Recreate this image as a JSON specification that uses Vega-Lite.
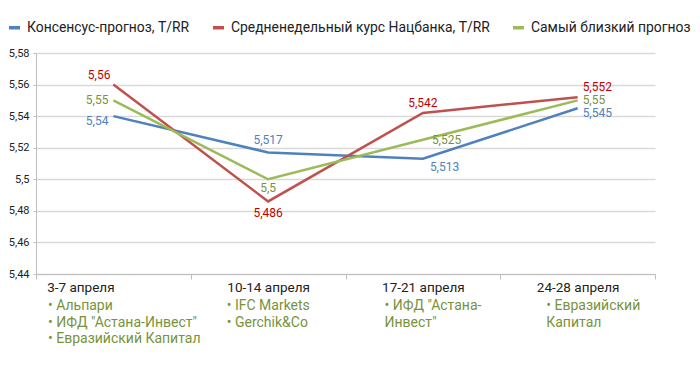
{
  "$schema": "https://vega.github.io/schema/vega-lite/v6.json",
  "width": 619,
  "height": 221,
  "padding": {"left": 7, "top": 20, "right": 5, "bottom": 5},
  "config": {
    "locale": {"number": {"decimal": ",", "thousands": " ", "grouping": [3], "currency": ["", ""]}},
    "font": "Roboto",
    "view": {"stroke": null},
    "axisY": {
      "title": null,
      "labelOverlap": false,
      "labelFont": "Roboto",
      "labelFontSize": 11,
      "labelColor": "#222222",
      "labelPadding": 4,
      "tickSize": 3,
      "tickColor": "#bfbfbf",
      "domainColor": "#bfbfbf",
      "gridColor": "#d9d9d9",
      "gridWidth": 1.3
    }
  },
  "datasets": {
    "rates": [
      {"week": "3-7 апреля", "series": "Консенсус-прогноз, T/RR", "value": 5.54},
      {"week": "10-14 апреля", "series": "Консенсус-прогноз, T/RR", "value": 5.517},
      {"week": "17-21 апреля", "series": "Консенсус-прогноз, T/RR", "value": 5.513},
      {"week": "24-28 апреля", "series": "Консенсус-прогноз, T/RR", "value": 5.545},
      {"week": "3-7 апреля", "series": "Средненедельный курс Нацбанка, T/RR", "value": 5.56},
      {"week": "10-14 апреля", "series": "Средненедельный курс Нацбанка, T/RR", "value": 5.486},
      {"week": "17-21 апреля", "series": "Средненедельный курс Нацбанка, T/RR", "value": 5.542},
      {"week": "24-28 апреля", "series": "Средненедельный курс Нацбанка, T/RR", "value": 5.552},
      {"week": "3-7 апреля", "series": "Самый близкий прогноз", "value": 5.55},
      {"week": "10-14 апреля", "series": "Самый близкий прогноз", "value": 5.5},
      {"week": "17-21 апреля", "series": "Самый близкий прогноз", "value": 5.525},
      {"week": "24-28 апреля", "series": "Самый близкий прогноз", "value": 5.55}
    ],
    "closest": [
      {"week": "3-7 апреля", "names": "• Альпари\n• ИФД \"Астана-Инвест\"\n• Евразийский Капитал"},
      {"week": "10-14 апреля", "names": "• IFC Markets\n• Gerchik&Co"},
      {"week": "17-21 апреля", "names": "• ИФД \"Астана-\nИнвест\""},
      {"week": "24-28 апреля", "names": "• Евразийский\nКапитал"}
    ]
  },
  "encoding": {
    "x": {
      "field": "week",
      "type": "ordinal",
      "sort": ["3-7 апреля", "10-14 апреля", "17-21 апреля", "24-28 апреля"],
      "scale": {"paddingInner": 0, "paddingOuter": 0},
      "axis": {
        "title": null,
        "labelAngle": 0,
        "labelFont": "Roboto",
        "labelFontSize": 13.5,
        "labelColor": "#222222",
        "labelPadding": 1,
        "labelOffset": {"condition": {"test": "datum.value == '3-7 апреля'", "value": -33}, "value": 0},
        "tickBand": "extent",
        "tickColor": "#bfbfbf",
        "tickSize": 5,
        "domainColor": "#bfbfbf",
        "grid": false
      }
    }
  },
  "layer": [
    {
      "data": {"name": "rates"},
      "mark": {"type": "line", "strokeWidth": 2.5},
      "encoding": {
        "y": {
          "field": "value",
          "type": "quantitative",
          "scale": {"domain": [5.44, 5.58], "zero": false, "nice": false},
          "axis": {"values": [5.44, 5.46, 5.48, 5.5, 5.52, 5.54, 5.56, 5.58], "format": ".2~f"}
        },
        "color": {
          "field": "series",
          "type": "nominal",
          "scale": {
            "domain": ["Консенсус-прогноз, T/RR", "Средненедельный курс Нацбанка, T/RR", "Самый близкий прогноз"],
            "range": ["#4F81BD", "#C0504D", "#9BBB59"]
          },
          "legend": {
            "orient": "none",
            "direction": "horizontal",
            "legendX": -29,
            "legendY": -33,
            "title": null,
            "symbolType": "stroke",
            "symbolSize": 121,
            "symbolStrokeWidth": 3.5,
            "labelFont": "Roboto",
            "labelFontSize": 13.9,
            "labelColor": "#222222",
            "labelOffset": 5,
            "columnPadding": 16,
            "labelLimit": 400
          }
        }
      }
    },
    {
      "data": {"name": "rates"},
      "mark": {
        "type": "text",
        "font": "Roboto",
        "fontSize": 12,
        "baseline": "middle",
        "align": {"expr": "datum.week == '3-7 апреля' ? 'right' : datum.week == '24-28 апреля' ? 'left' : (datum.week == '17-21 апреля' && indexof(datum.series, 'Средненедельный') < 0) ? 'left' : 'center'"},
        "dx": {"expr": "datum.week == '3-7 апреля' ? (indexof(datum.series, 'Средненедельный') == 0 ? -3 : -5) : datum.week == '24-28 апреля' ? 5 : datum.week == '17-21 апреля' ? (indexof(datum.series, 'Средненедельный') == 0 ? 0 : indexof(datum.series, 'Самый') == 0 ? 9 : 7) : 0"},
        "dy": {"expr": "datum.week == '3-7 апреля' ? (indexof(datum.series, 'Средненедельный') == 0 ? -10 : indexof(datum.series, 'Самый') == 0 ? 0 : 5) : datum.week == '10-14 апреля' ? (indexof(datum.series, 'Средненедельный') == 0 ? 12 : indexof(datum.series, 'Самый') == 0 ? 9 : -12) : datum.week == '17-21 апреля' ? (indexof(datum.series, 'Средненедельный') == 0 ? -10 : indexof(datum.series, 'Самый') == 0 ? 0 : 8) : (indexof(datum.series, 'Средненедельный') == 0 ? -10 : indexof(datum.series, 'Самый') == 0 ? 0 : 5)"}
      },
      "encoding": {
        "y": {
          "field": "value",
          "type": "quantitative",
          "axis": {"values": [5.44, 5.46, 5.48, 5.5, 5.52, 5.54, 5.56, 5.58], "format": ".2~f"}
        },
        "text": {"field": "value", "type": "quantitative", "format": ".3~f"},
        "fill": {
          "field": "series",
          "type": "nominal",
          "scale": {
            "domain": ["Консенсус-прогноз, T/RR", "Средненедельный курс Нацбанка, T/RR", "Самый близкий прогноз"],
            "range": ["#4F81BD", "#C00000", "#77933C"]
          },
          "legend": null
        }
      }
    },
    {
      "data": {"name": "closest"},
      "mark": {
        "type": "text",
        "font": "Roboto",
        "fontSize": 14,
        "align": "left",
        "baseline": "top",
        "lineBreak": "\n",
        "lineHeight": 16.5,
        "dx": {"expr": "datum.week == '3-7 апреля' ? 12 : datum.week == '10-14 апреля' ? 36 : datum.week == '17-21 апреля' ? 39 : 46"},
        "dy": 25,
        "color": "#77933C"
      },
      "encoding": {
        "x": {"field": "week", "type": "ordinal", "sort": ["3-7 апреля", "10-14 апреля", "17-21 апреля", "24-28 апреля"], "bandPosition": 0},
        "y": {
          "datum": 5.44,
          "type": "quantitative",
          "axis": {"values": [5.44, 5.46, 5.48, 5.5, 5.52, 5.54, 5.56, 5.58], "format": ".2~f"}
        },
        "text": {"field": "names"}
      }
    }
  ]
}
